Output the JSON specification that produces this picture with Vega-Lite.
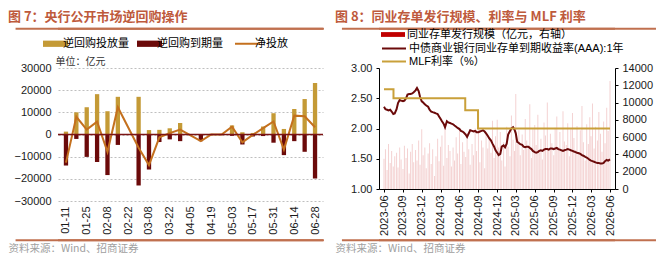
{
"$schema": "https://vega.github.io/schema/vega-lite/v6.json",
"padding": {"left": 8, "top": 10, "right": 3, "bottom": 3},
"spacing": 10,
"background": "white",
"resolve": {"scale": {"color": "independent", "fill": "independent", "stroke": "independent"}, "legend": {"color": "independent", "fill": "independent", "stroke": "independent"}},
"config": {"view": {"stroke": null}, "font": "Liberation Sans, Noto Sans CJK SC", "axis": {"labelFont": "Liberation Sans, Noto Sans CJK SC", "titleFont": "Noto Sans CJK SC, Liberation Sans", "labelColor": "#1a1a1a", "labelOverlap": false, "labelFlush": false, "labelFontSize": 11}, "legend": {"labelFont": "Liberation Sans, Noto Sans CJK SC", "padding": 0}, "title": {"font": "Noto Sans CJK SC, Liberation Sans", "fontSize": 13, "fontWeight": "bold", "color": "#BE5A3C", "anchor": "start", "frame": "group"}},
"datasets": {
"b7": [
{"d":"2025-01-11","s":"逆回购投放量","v":1300},{"d":"2025-01-11","s":"逆回购到期量","v":-14000},
{"d":"2025-01-18","s":"逆回购投放量","v":10000},{"d":"2025-01-18","s":"逆回购到期量","v":-2000},
{"d":"2025-01-25","s":"逆回购投放量","v":12300},{"d":"2025-01-25","s":"逆回购到期量","v":-10100},
{"d":"2025-02-01","s":"逆回购投放量","v":18200},{"d":"2025-02-01","s":"逆回购到期量","v":-12400},
{"d":"2025-02-08","s":"逆回购投放量","v":10500},{"d":"2025-02-08","s":"逆回购到期量","v":-18300},
{"d":"2025-02-15","s":"逆回购投放量","v":17000},{"d":"2025-02-15","s":"逆回购到期量","v":-4700},
{"d":"2025-03-01","s":"逆回购投放量","v":17000},{"d":"2025-03-01","s":"逆回购到期量","v":-23000},
{"d":"2025-03-08","s":"逆回购投放量","v":2000},{"d":"2025-03-08","s":"逆回购到期量","v":-15800},
{"d":"2025-03-15","s":"逆回购投放量","v":2100},{"d":"2025-03-15","s":"逆回购到期量","v":-3400},
{"d":"2025-03-22","s":"逆回购投放量","v":2800},{"d":"2025-03-22","s":"逆回购到期量","v":-2200},
{"d":"2025-03-29","s":"逆回购投放量","v":5200},{"d":"2025-03-29","s":"逆回购到期量","v":-3000},
{"d":"2025-04-12","s":"逆回购投放量","v":0},{"d":"2025-04-12","s":"逆回购到期量","v":-3000},
{"d":"2025-04-19","s":"逆回购投放量","v":300},{"d":"2025-04-19","s":"逆回购到期量","v":-300},
{"d":"2025-04-26","s":"逆回购投放量","v":300},{"d":"2025-04-26","s":"逆回购到期量","v":-300},
{"d":"2025-05-03","s":"逆回购投放量","v":4100},{"d":"2025-05-03","s":"逆回购到期量","v":-600},
{"d":"2025-05-10","s":"逆回购投放量","v":1000},{"d":"2025-05-10","s":"逆回购到期量","v":-4500},
{"d":"2025-05-17","s":"逆回购投放量","v":700},{"d":"2025-05-17","s":"逆回购到期量","v":-900},
{"d":"2025-05-24","s":"逆回购投放量","v":3600},{"d":"2025-05-24","s":"逆回购到期量","v":-700},
{"d":"2025-05-31","s":"逆回购投放量","v":9600},{"d":"2025-05-31","s":"逆回购到期量","v":-3700},
{"d":"2025-06-07","s":"逆回购投放量","v":2500},{"d":"2025-06-07","s":"逆回购到期量","v":-9300},
{"d":"2025-06-14","s":"逆回购投放量","v":11500},{"d":"2025-06-14","s":"逆回购到期量","v":-3000},
{"d":"2025-06-21","s":"逆回购投放量","v":16000},{"d":"2025-06-21","s":"逆回购到期量","v":-7800},
{"d":"2025-06-28","s":"逆回购投放量","v":23200},{"d":"2025-06-28","s":"逆回购到期量","v":-19900}
],
"n7": [
{"d":"2025-01-11","n":-12700},{"d":"2025-01-18","n":8000},{"d":"2025-01-25","n":2200},{"d":"2025-02-01","n":5800},{"d":"2025-02-08","n":-7800},{"d":"2025-02-15","n":12300},{"d":"2025-03-01","n":-6000},{"d":"2025-03-08","n":-13800},{"d":"2025-03-15","n":-1300},{"d":"2025-03-22","n":600},{"d":"2025-03-29","n":2200},{"d":"2025-04-12","n":-3000},{"d":"2025-04-19","n":0},{"d":"2025-04-26","n":0},{"d":"2025-05-03","n":3500},{"d":"2025-05-10","n":-3500},{"d":"2025-05-17","n":-200},{"d":"2025-05-24","n":2900},{"d":"2025-05-31","n":5900},{"d":"2025-06-07","n":-6800},{"d":"2025-06-14","n":8500},{"d":"2025-06-21","n":8200},{"d":"2025-06-28","n":3300}
],
"r8": [
{"d":"2023-06-01","v":3500,"r":2.36},{"d":"2023-06-08","v":4600,"r":2.32},{"d":"2023-06-16","v":2200,"r":2.31},{"d":"2023-06-23","v":5200,"r":2.30},
{"d":"2023-07-01","v":3000,"r":2.31},{"d":"2023-07-08","v":4400,"r":2.28},{"d":"2023-07-16","v":2600,"r":2.24},{"d":"2023-07-23","v":3800,"r":2.25},
{"d":"2023-08-01","v":4200,"r":2.32},{"d":"2023-08-08","v":2500,"r":2.42},{"d":"2023-08-16","v":4800,"r":2.47},{"d":"2023-08-23","v":3400,"r":2.46},
{"d":"2023-09-01","v":2300,"r":2.45},{"d":"2023-09-08","v":5000,"r":2.46},{"d":"2023-09-16","v":3600,"r":2.50},{"d":"2023-09-23","v":4700,"r":2.56},
{"d":"2023-10-01","v":1800,"r":2.57},{"d":"2023-10-08","v":4300,"r":2.57},{"d":"2023-10-16","v":5200,"r":2.58},{"d":"2023-10-23","v":3100,"r":2.60},
{"d":"2023-11-01","v":4500,"r":2.63},{"d":"2023-11-08","v":3300,"r":2.67},{"d":"2023-11-16","v":5600,"r":2.62},{"d":"2023-11-23","v":2800,"r":2.52},
{"d":"2023-12-01","v":6900,"r":2.45},{"d":"2023-12-08","v":3900,"r":2.43},{"d":"2023-12-16","v":4800,"r":2.40},{"d":"2023-12-23","v":2400,"r":2.38},
{"d":"2024-01-01","v":4100,"r":2.36},{"d":"2024-01-08","v":5300,"r":2.31},{"d":"2024-01-16","v":2900,"r":2.28},{"d":"2024-01-23","v":4600,"r":2.27},
{"d":"2024-02-01","v":1500,"r":2.26},{"d":"2024-02-08","v":3800,"r":2.25},{"d":"2024-02-16","v":5800,"r":2.24},{"d":"2024-02-23","v":3200,"r":2.20},
{"d":"2024-03-01","v":4900,"r":2.16},{"d":"2024-03-08","v":6200,"r":2.12},{"d":"2024-03-16","v":2700,"r":2.08},{"d":"2024-03-23","v":7400,"r":2.02},
{"d":"2024-04-01","v":3600,"r":2.12},{"d":"2024-04-08","v":5100,"r":2.10},{"d":"2024-04-16","v":4400,"r":2.09},{"d":"2024-04-23","v":2600,"r":2.08},
{"d":"2024-05-01","v":4800,"r":2.07},{"d":"2024-05-08","v":3300,"r":2.05},{"d":"2024-05-16","v":6000,"r":2.03},{"d":"2024-05-23","v":4100,"r":2.01},
{"d":"2024-06-01","v":7100,"r":1.99},{"d":"2024-06-08","v":2900,"r":1.96},{"d":"2024-06-16","v":5400,"r":1.95},{"d":"2024-06-23","v":4300,"r":1.93},
{"d":"2024-07-01","v":3700,"r":1.90},{"d":"2024-07-08","v":6500,"r":1.86},{"d":"2024-07-16","v":4600,"r":1.92},{"d":"2024-07-23","v":2800,"r":1.97},
{"d":"2024-08-01","v":5200,"r":1.96},{"d":"2024-08-08","v":3900,"r":1.95},{"d":"2024-08-16","v":7000,"r":1.96},{"d":"2024-08-23","v":4400,"r":1.94},
{"d":"2024-09-01","v":7500,"r":1.94},{"d":"2024-09-08","v":3100,"r":1.95},{"d":"2024-09-16","v":5600,"r":1.96},{"d":"2024-09-23","v":4800,"r":1.97},
{"d":"2024-10-01","v":2400,"r":1.95},{"d":"2024-10-08","v":6300,"r":1.92},{"d":"2024-10-16","v":4700,"r":1.88},{"d":"2024-10-23","v":5900,"r":1.84},
{"d":"2024-11-01","v":4200,"r":1.80},{"d":"2024-11-08","v":7900,"r":1.75},{"d":"2024-11-16","v":3600,"r":1.70},{"d":"2024-11-23","v":6100,"r":1.64},
{"d":"2024-12-01","v":8000,"r":1.60},{"d":"2024-12-08","v":4800,"r":1.56},{"d":"2024-12-16","v":6600,"r":1.58},{"d":"2024-12-23","v":3300,"r":1.70},
{"d":"2025-01-01","v":5400,"r":1.72},{"d":"2025-01-08","v":2600,"r":1.69},{"d":"2025-01-16","v":7200,"r":1.75},{"d":"2025-01-23","v":4900,"r":1.90},
{"d":"2025-02-01","v":3800,"r":1.96},{"d":"2025-02-08","v":8500,"r":2.00},{"d":"2025-02-16","v":5700,"r":2.02},{"d":"2025-02-23","v":4400,"r":1.98},
{"d":"2025-03-01","v":11000,"r":1.92},{"d":"2025-03-08","v":5200,"r":1.78},{"d":"2025-03-16","v":6800,"r":1.76},{"d":"2025-03-23","v":3900,"r":1.74},
{"d":"2025-04-01","v":6300,"r":1.73},{"d":"2025-04-08","v":4500,"r":1.70},{"d":"2025-04-16","v":8100,"r":1.69},{"d":"2025-04-23","v":5600,"r":1.70},
{"d":"2025-05-01","v":4700,"r":1.70},{"d":"2025-05-08","v":9800,"r":1.68},{"d":"2025-05-16","v":3600,"r":1.66},{"d":"2025-05-23","v":6900,"r":1.63},
{"d":"2025-06-01","v":7400,"r":1.61},{"d":"2025-06-08","v":5100,"r":1.60},{"d":"2025-06-16","v":8600,"r":1.61},{"d":"2025-06-23","v":4200,"r":1.63},
{"d":"2025-07-01","v":5800,"r":1.64},{"d":"2025-07-08","v":3400,"r":1.63},{"d":"2025-07-16","v":7700,"r":1.65},{"d":"2025-07-23","v":6200,"r":1.66},
{"d":"2025-08-01","v":10000,"r":1.66},{"d":"2025-08-08","v":4600,"r":1.65},{"d":"2025-08-16","v":6400,"r":1.67},{"d":"2025-08-23","v":5300,"r":1.67},
{"d":"2025-09-01","v":3900,"r":1.66},{"d":"2025-09-08","v":7100,"r":1.67},{"d":"2025-09-16","v":8400,"r":1.68},{"d":"2025-09-23","v":4800,"r":1.66},
{"d":"2025-10-01","v":6600,"r":1.65},{"d":"2025-10-08","v":4300,"r":1.64},{"d":"2025-10-16","v":9000,"r":1.63},{"d":"2025-10-23","v":5500,"r":1.64},
{"d":"2025-11-01","v":5100,"r":1.65},{"d":"2025-11-08","v":7600,"r":1.66},{"d":"2025-11-16","v":3800,"r":1.65},{"d":"2025-11-23","v":6900,"r":1.64},
{"d":"2025-12-01","v":8800,"r":1.63},{"d":"2025-12-08","v":5900,"r":1.62},{"d":"2025-12-16","v":4500,"r":1.61},{"d":"2025-12-23","v":7300,"r":1.60},
{"d":"2026-01-01","v":4200,"r":1.59},{"d":"2026-01-08","v":6800,"r":1.58},{"d":"2026-01-16","v":9600,"r":1.56},{"d":"2026-01-23","v":5400,"r":1.55},
{"d":"2026-02-01","v":3300,"r":1.53},{"d":"2026-02-08","v":7500,"r":1.52},{"d":"2026-02-16","v":5200,"r":1.50},{"d":"2026-02-23","v":8300,"r":1.48},
{"d":"2026-03-01","v":6100,"r":1.47},{"d":"2026-03-08","v":9900,"r":1.46},{"d":"2026-03-16","v":4700,"r":1.45},{"d":"2026-03-23","v":7200,"r":1.44},
{"d":"2026-04-01","v":5600,"r":1.43},{"d":"2026-04-08","v":8900,"r":1.43},{"d":"2026-04-16","v":6400,"r":1.42},{"d":"2026-04-23","v":4300,"r":1.42},
{"d":"2026-05-01","v":7800,"r":1.43},{"d":"2026-05-08","v":5300,"r":1.46},{"d":"2026-05-16","v":9400,"r":1.48},{"d":"2026-05-23","v":6700,"r":1.47},
{"d":"2026-06-01","v":12500,"r":1.49}
],
"m8": [
{"d":"2023-06-01","m":2.65},{"d":"2023-07-17","m":2.50},{"d":"2024-06-29","m":2.30},{"d":"2024-08-30","m":2.00},{"d":"2026-06-01","m":2.00}
]
},
"hconcat": [
{
"width": 265, "height": 133,
"title": {"text": "图 7：央行公开市场逆回购操作", "dx": -50, "offset": 4},
"layer": [
{
"data": {"name": "b7"},
"mark": {"type": "bar", "size": 4.3},
"encoding": {
"x": {"field": "d", "type": "temporal",
"scale": {"type": "utc", "domain": [{"year":2025,"month":1,"date":9,"utc":true}, {"year":2025,"month":6,"date":30,"utc":true}]},
"axis": {"values": [{"year":2025,"month":1,"date":11,"utc":true},{"year":2025,"month":1,"date":25,"utc":true},{"year":2025,"month":2,"date":8,"utc":true},{"year":2025,"month":2,"date":22,"utc":true},{"year":2025,"month":3,"date":8,"utc":true},{"year":2025,"month":3,"date":22,"utc":true},{"year":2025,"month":4,"date":5,"utc":true},{"year":2025,"month":4,"date":19,"utc":true},{"year":2025,"month":5,"date":3,"utc":true},{"year":2025,"month":5,"date":17,"utc":true},{"year":2025,"month":5,"date":31,"utc":true},{"year":2025,"month":6,"date":14,"utc":true},{"year":2025,"month":6,"date":28,"utc":true}],
"format": "%m-%d", "labelAngle": 270, "labelOverlap": false, "ticks": false, "domain": false, "grid": false, "labelFontSize": 11, "labelPadding": 5, "title": "资料来源：Wind、招商证券", "titleX": -50, "titleY": 47, "titleAlign": "left", "titleBaseline": "middle", "titleFontSize": 10.5, "titleFontWeight": "normal", "titleColor": "#A0A0A0"}},
"y": {"field": "v", "type": "quantitative", "stack": null,
"scale": {"domain": [-30000, 30000]},
"axis": {"values": [-30000,-20000,-10000,0,10000,20000,30000], "format": "d", "labelOverlap": false, "grid": true, "gridDash": [2,2], "gridColor": "#BFBFBF", "domain": false, "ticks": false, "labelFontSize": 11, "labelPadding": 7, "title": "单位：亿元", "titleAngle": 0, "titleX": -3, "titleY": -7, "titleAlign": "left", "titleBaseline": "middle", "titleFontSize": 10, "titleFontWeight": "normal", "titleColor": "#333333"}},
"color": {"field": "s", "type": "nominal",
"scale": {"domain": ["逆回购投放量","逆回购到期量","净投放"], "range": ["#C49A36","#6B0A0A","#C4701E"]},
"legend": {"orient": "none", "legendX": -8, "legendY": -30, "direction": "horizontal", "title": null, "symbolSize": 625, "labelFontSize": 11, "labelColor": "#000000", "columnPadding": 8, "labelOffset": 2,
"encode": {"symbols": {"update": {
"shape": {"signal": "datum.value === '净投放' ? 'M-1,0H1' : 'M-1,-0.25H1V0.25H-1Z'"},
"fill": {"signal": "datum.value === '净投放' ? 'transparent' : (datum.value === '逆回购投放量' ? '#C49A36' : '#6B0A0A')"},
"stroke": {"signal": "datum.value === '净投放' ? '#C4701E' : 'transparent'"},
"strokeWidth": {"signal": "datum.value === '净投放' ? 2 : 0"},
"opacity": {"value": 1}}}}}}
}
},
{
"data": {"name": "n7"},
"mark": {"type": "line", "strokeWidth": 2},
"encoding": {
"x": {"field": "d", "type": "temporal", "axis": null},
"y": {"field": "n", "type": "quantitative", "axis": null},
"color": {"datum": "净投放", "legend": null}
}
},
{
"data": {"values": [{}]},
"mark": {"type": "rule", "color": "#7B1414", "strokeWidth": 1.5},
"encoding": {"y": {"datum": 0, "axis": null}}
},
{
"data": {"values": [{"y": 47730}, {"y": -47730}]},
"mark": {"type": "rule", "color": "#C0704F", "strokeWidth": 2},
"encoding": {"y": {"field": "y", "type": "quantitative", "axis": null}}
},
{
"data": {"values": [{"x1":"2024-12-08","x2":"2025-07-04","y":47730},{"x1":"2024-12-08","x2":"2025-07-04","y":-47730}], "format": {"parse": {"x1": "date", "x2": "date"}}},
"mark": {"type": "rule", "color": "#C0704F", "strokeWidth": 2},
"encoding": {
"x": {"field": "x1", "type": "temporal", "axis": null},
"x2": {"field": "x2"},
"y": {"field": "y", "type": "quantitative", "axis": null}
}
}
],
"resolve": {"axis": {"x": "independent", "y": "independent"}}
},
{
"width": 236, "height": 121,
"title": {"text": "图 8：同业存单发行规模、利率与 MLF 利率", "dx": -44, "offset": 4},
"layer": [
{
"data": {"name": "r8"},
"transform": [{"fold": ["v"], "as": ["s", "val"]}],
"mark": {"type": "bar", "size": 1, "opacity": 0.18, "clip": true},
"encoding": {
"x": {"field": "d", "type": "temporal",
"scale": {"type": "utc", "domain": [{"year": 2023, "month": 6, "date": 1, "utc": true}, {"year": 2026, "month": 6, "date": 1, "utc": true}]},
"axis": {"values": [{"year":2023,"month":6,"date":1,"utc":true},{"year":2023,"month":9,"date":1,"utc":true},{"year":2023,"month":12,"date":1,"utc":true},{"year":2024,"month":3,"date":1,"utc":true},{"year":2024,"month":6,"date":1,"utc":true},{"year":2024,"month":9,"date":1,"utc":true},{"year":2024,"month":12,"date":1,"utc":true},{"year":2025,"month":3,"date":1,"utc":true},{"year":2025,"month":6,"date":1,"utc":true},{"year":2025,"month":9,"date":1,"utc":true},{"year":2025,"month":12,"date":1,"utc":true},{"year":2026,"month":3,"date":1,"utc":true},{"year":2026,"month":6,"date":1,"utc":true}],
"format": "%Y-%m", "labelAngle": 270, "labelOverlap": false, "labelFlush": false, "ticks": true, "tickSize": 3, "tickColor": "#000000", "domainColor": "#000000", "labelFontSize": 11, "labelPadding": 3, "grid": false, "title": "资料来源：Wind、招商证券", "titleX": -44, "titleY": 59, "titleAlign": "left", "titleBaseline": "middle", "titleFontSize": 10.5, "titleFontWeight": "normal", "titleColor": "#A0A0A0"}},
"y": {"field": "val", "type": "quantitative",
"scale": {"domain": [0, 14000]},
"axis": {"orient": "right", "values": [0,2000,4000,6000,8000,10000,12000,14000], "format": "d", "labelOverlap": false, "grid": false, "domainColor": "#000000", "tickColor": "#000000", "tickSize": 3, "labelFontSize": 11, "labelPadding": 4, "title": null}},
"fill": {"field": "s", "type": "nominal",
"scale": {"domain": ["v"], "range": ["#C00000"]},
"legend": {"orient": "none", "legendX": 8, "legendY": -39.5, "direction": "vertical", "title": null, "symbolType": "M-2,-0.4H2V0.4H-2Z", "symbolSize": 144, "symbolOpacity": 1, "symbolStrokeWidth": 0, "labelFontSize": 11, "labelColor": "#000000", "labelOffset": 8, "labelLimit": 400,
"labelExpr": "'同业存单发行规模（亿元，右轴）'"}}
}
},
{
"layer": [
{
"data": {"name": "r8"},
"transform": [{"fold": ["r"], "as": ["s", "val"]}],
"mark": {"type": "line", "strokeWidth": 2, "clip": true},
"encoding": {
"x": {"field": "d", "type": "temporal", "axis": null},
"y": {"field": "val", "type": "quantitative",
"scale": {"domain": [1, 3]},
"axis": {"orient": "left", "values": [1,1.5,2,2.5,3], "format": ".2f", "labelOverlap": false, "grid": false, "domainColor": "#000000", "tickColor": "#000000", "tickSize": 3, "labelFontSize": 11, "labelPadding": 4, "title": null}},
"stroke": {"field": "s", "type": "nominal",
"scale": {"domain": ["r", "m"], "range": ["#6B0A0A", "#C9A03A"]},
"legend": {"orient": "none", "legendX": 8, "legendY": -26.5, "direction": "vertical", "title": null, "symbolType": "M-2,0H2", "symbolSize": 144, "symbolStrokeWidth": 2, "symbolOpacity": 1, "rowPadding": 1, "labelFontSize": 11, "labelColor": "#000000", "labelOffset": 8, "labelLimit": 400,
"labelExpr": "datum.value == 'r' ? '中债商业银行同业存单到期收益率(AAA):1年' : 'MLF利率（%）'"}}
}
},
{
"data": {"name": "m8"},
"transform": [{"fold": ["m"], "as": ["s", "val"]}],
"mark": {"type": "line", "strokeWidth": 2, "interpolate": "step-after", "clip": true},
"encoding": {
"x": {"field": "d", "type": "temporal", "axis": null},
"y": {"field": "val", "type": "quantitative", "axis": null},
"stroke": {"field": "s", "type": "nominal", "legend": null}
}
},
{
"data": {"values": [{"y": 3.65}, {"y": 0.152}]},
"mark": {"type": "rule", "color": "#C0704F", "strokeWidth": 2},
"encoding": {"y": {"field": "y", "type": "quantitative", "axis": null}}
},
{
"data": {"values": [{"x1":"2022-11-09","x2":"2027-01-10","y":3.65},{"x1":"2022-11-09","x2":"2027-01-10","y":0.152}], "format": {"parse": {"x1": "date", "x2": "date"}}},
"mark": {"type": "rule", "color": "#C0704F", "strokeWidth": 2},
"encoding": {
"x": {"field": "x1", "type": "temporal", "axis": null},
"x2": {"field": "x2"},
"y": {"field": "y", "type": "quantitative", "axis": null}
}
}
],
"resolve": {"axis": {"x": "independent", "y": "independent"}}
}
],
"resolve": {"scale": {"y": "independent"}, "axis": {"x": "independent", "y": "independent"}}
}
]
}
